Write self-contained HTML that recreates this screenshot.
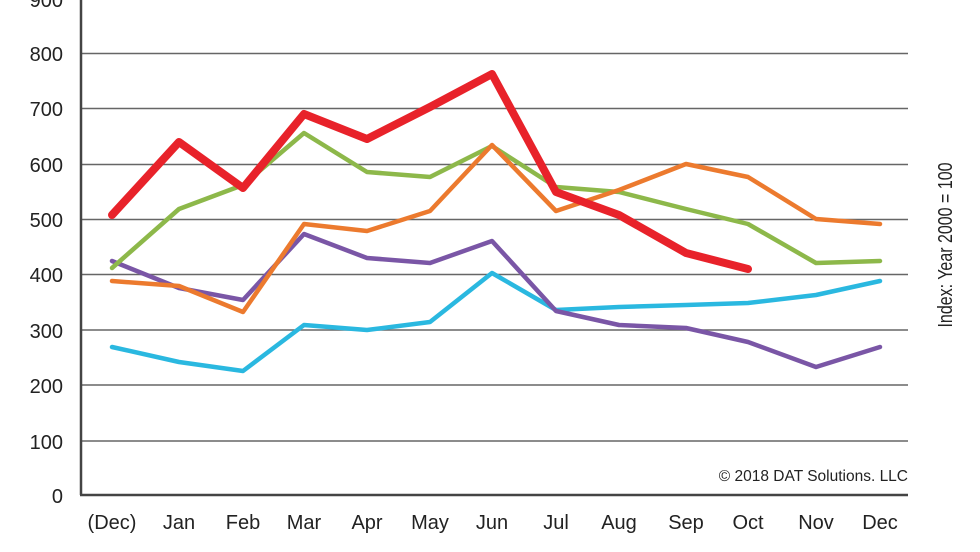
<!DOCTYPE html>
<html><head><style>body{margin:0;background:#fff}svg{display:block}</style></head><body>
<svg width="980" height="552" viewBox="0 0 980 552" font-family="Liberation Sans, Arial, sans-serif">
<g stroke="#666" stroke-width="1.5">
<line x1="81" y1="53.5" x2="908" y2="53.5"/><line x1="81" y1="108.5" x2="908" y2="108.5"/>
<line x1="81" y1="164.5" x2="908" y2="164.5"/><line x1="81" y1="219.5" x2="908" y2="219.5"/>
<line x1="81" y1="274.5" x2="908" y2="274.5"/><line x1="81" y1="330" x2="908" y2="330"/>
<line x1="81" y1="385" x2="908" y2="385"/><line x1="81" y1="441" x2="908" y2="441"/>
</g>
<g stroke="#444" stroke-width="2.5"><line x1="81" y1="0" x2="81" y2="495"/><line x1="80" y1="495" x2="908" y2="495"/></g>
<g font-size="20" fill="#222" text-anchor="end">
<text x="63" y="7">900</text><text x="63" y="61">800</text><text x="63" y="116">700</text><text x="63" y="172">600</text>
<text x="63" y="227">500</text><text x="63" y="282">400</text><text x="63" y="338">300</text><text x="63" y="393">200</text>
<text x="63" y="449">100</text><text x="63" y="503">0</text>
</g>
<g font-size="20" fill="#222" text-anchor="middle">
<text x="112" y="529">(Dec)</text><text x="179" y="529">Jan</text><text x="243" y="529">Feb</text><text x="304" y="529">Mar</text>
<text x="367" y="529">Apr</text><text x="430" y="529">May</text><text x="492" y="529">Jun</text><text x="556" y="529">Jul</text>
<text x="619" y="529">Aug</text><text x="686" y="529">Sep</text><text x="748" y="529">Oct</text><text x="816" y="529">Nov</text><text x="880" y="529">Dec</text>
</g>
<text x="908" y="481" font-size="15.5" fill="#222" text-anchor="end">© 2018 DAT Solutions. LLC</text>
<text transform="translate(952,245) rotate(-90) scale(0.8,1)" font-size="20" fill="#222" text-anchor="middle">Index: Year 2000 = 100</text>
<g fill="none" stroke-linejoin="round" stroke-linecap="round" stroke-width="4.5">
<polyline stroke="#2ab8e0" points="112,347 179,362 243,371 304,325 367,330 430,322 492,273 556,310 619,307 686,305 748,303 816,295 880,281"/>
<polyline stroke="#7a56a6" points="112,261 179,288 243,300 304,234 367,258 430,263 492,241 556,311 619,325 686,328 748,342 816,367 880,347"/>
<polyline stroke="#8db84a" points="112,268 179,209 243,185 304,133 367,172 430,177 492,146 556,187 619,192 686,209 748,224 816,263 880,261"/>
<polyline stroke="#ec7a2e" points="112,281 179,286 243,312 304,224 367,231 430,211 492,145 556,211 619,190 686,164 748,177 816,219 880,224"/>
<polyline stroke="#e8222a" stroke-width="8" points="112,215 179,142 243,188 304,114 367,139 430,107 492,74 556,192 619,215 686,253 748,269"/>
</g>
</svg>
</body></html>
